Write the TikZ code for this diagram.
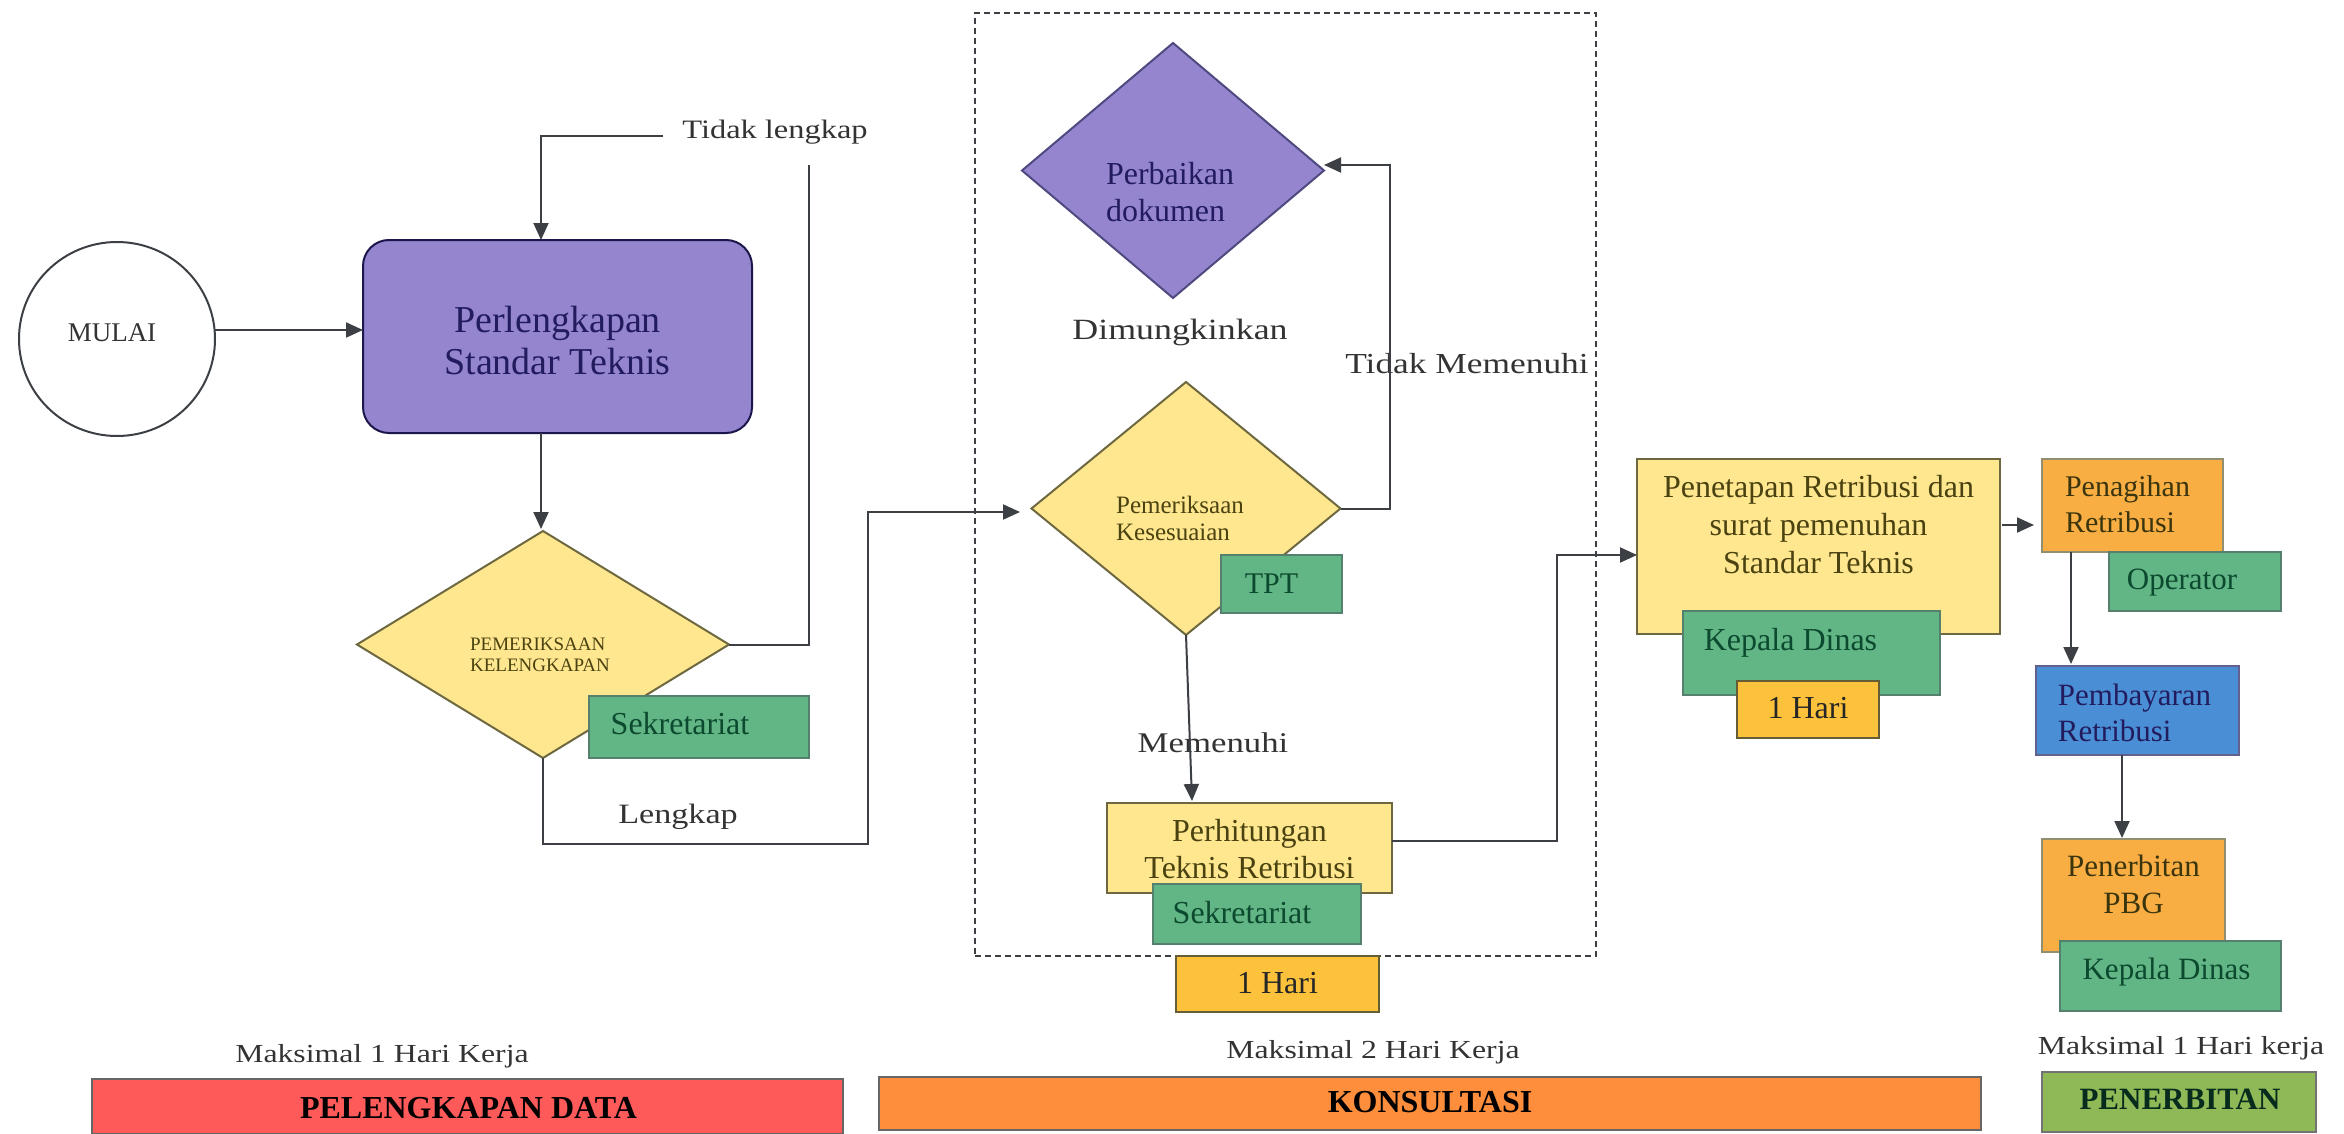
\documentclass[tikz,border=0pt]{standalone}
\usepackage{fontspec}
\setmainfont{Liberation Serif}
\newfontfamily\widefont[FakeStretch=1.22]{Liberation Serif}
\usetikzlibrary{arrows.meta,shapes.geometric}
\definecolor{cpurple}{HTML}{9585CF}
\definecolor{cyellow}{HTML}{FFE78F}
\definecolor{cgreen}{HTML}{62B584}
\definecolor{camber}{HTML}{FCC23C}
\definecolor{corange}{HTML}{F9AE44}
\definecolor{cblue}{HTML}{4A8FD6}
\definecolor{cred}{HTML}{FF5A5A}
\definecolor{cbar}{HTML}{FF8E3C}
\definecolor{cleaf}{HTML}{8FB856}
\definecolor{tnavy}{HTML}{221C5E}
\definecolor{tolive}{HTML}{4A4210}
\definecolor{tgreen}{HTML}{0C4A30}
\definecolor{tgrey}{HTML}{333333}
\definecolor{lgrey}{HTML}{3C4044}
% text at an offset (dx right, dy down) from the centre of its node
\newcommand{\offgen}[6]{\fontsize{#3}{#4}\selectfont\raisebox{\dimexpr-#2pt-0.25em\relax}[0pt][0pt]{\makebox[0pt]{\kern #1pt\kern #1pt\begin{tabular}{@{}#6@{}}#5\end{tabular}}}}
\newcommand{\off}[5]{\offgen{#1}{#2}{#3}{#4}{#5}{c}}
\newcommand{\offl}[5]{\offgen{#1}{#2}{#3}{#4}{#5}{l}}
\newcommand{\bx}[7]{\node[#6,minimum width={#4pt-#2pt},minimum height={#5pt-#3pt}] (#1) at ({(#2+#4)/2},{(#3+#5)/2}) {#7};}
\tikzset{
  x=1pt,y=-1pt,
  every node/.style={inner sep=0pt,outer sep=0pt},
  purplebox/.style={draw=tnavy!80!black,line width=2pt,fill=cpurple,text=tnavy},
  yellowbox/.style={draw=tolive!80,line width=2pt,fill=cyellow,text=tolive},
  greenbox/.style={draw=tgreen!70,line width=2pt,fill=cgreen,text=tgreen},
  amberbox/.style={draw=tolive!85,line width=2pt,fill=camber,text=black!85},
  orangebox/.style={draw=tolive!60,line width=2pt,fill=corange,text=tolive!80!black},
  bluebox/.style={draw=tnavy!70,line width=2pt,fill=cblue,text=tnavy},
  redbar/.style={draw=black!60,line width=2pt,fill=cred,text=black},
  orangebar/.style={draw=black!60,line width=2pt,fill=cbar,text=black},
  leafbar/.style={draw=black!55,line width=2pt,fill=cleaf,text=tgreen!60!black},
  ydia/.style={diamond,draw=tolive!80,line width=2pt,fill=cyellow,text=tolive},
  pdia/.style={diamond,draw=tnavy!80,line width=2pt,fill=cpurple,text=tnavy},
  conn/.style={draw=lgrey,line width=2pt,-{Triangle[length=17pt,width=15pt]}},
  plainline/.style={draw=lgrey,line width=2pt},
  freelabel/.style={text=tgrey},
  dashbox/.style={draw=lgrey,line width=2pt,dash pattern=on 6pt off 4pt},
}
\begin{document}
\begin{tikzpicture}
\useasboundingbox (0,0) rectangle (2344,1134);
\fill[white] (0,0) rectangle (2344,1134);

% dashed frame
\bx{frame}{975}{13}{1596}{956}{dashbox}{}

% start and standard
\node[ellipse,draw=lgrey,line width=2pt,fill=white,minimum width=196pt,minimum height=194pt] (mulai) at (117,339) {\off{-5}{-4}{27}{30}{\color{tgrey}MULAI}};
\node[rounded corners=26pt,purplebox,minimum width=389pt,minimum height=193pt] (std) at (557.5,336.5) {\off{0}{5}{38}{42}{Perlengkapan\\Standar Teknis}};

% first check
\node[ydia,minimum width=372pt,minimum height=227pt] (cek) at (543,644.5) {\offl{-3}{12}{19}{21}{PEMERIKSAAN\\KELENGKAPAN}};
\bx{sek1}{589}{696}{809}{758}{greenbox}{\off{-19}{-1}{32}{34}{Sekretariat}}

% repair and conformity
\node[pdia,minimum width=302pt,minimum height=255pt] (perb) at (1173,170.5) {\offl{-3}{23}{32}{37}{Perbaikan\\dokumen}};
\node[ydia,minimum width=309pt,minimum height=253pt] (sesuai) at (1186,508.5) {\offl{-6}{13}{25}{27}{Pemeriksaan\\Kesesuaian}};
\bx{tpt}{1221}{555}{1342}{613}{greenbox}{\off{-10}{1}{30}{34}{TPT}}
\bx{hitung}{1107}{803}{1392}{893}{yellowbox}{\off{0}{3}{32}{37}{Perhitungan\\Teknis Retribusi}}
\bx{sek2}{1153}{884}{1361}{944}{greenbox}{\off{-15}{1}{32}{34}{Sekretariat}}
\bx{hari1}{1176}{956}{1379}{1012}{amberbox}{\off{0}{1}{32}{34}{1 Hari}}

% decision
\bx{tetap}{1637}{459}{2000}{634}{yellowbox}{\off{0}{-20}{32}{38}{Penetapan Retribusi dan\\surat pemenuhan\\Standar Teknis}}
\bx{kadis1}{1683}{611}{1940}{695}{greenbox}{\off{-21}{-11}{32}{34}{Kepala Dinas}}
\bx{hari2}{1737}{681}{1879}{738}{amberbox}{\off{0}{0}{32}{34}{1 Hari}}

% right column
\bx{tagih}{2042}{459}{2223}{552}{orangebox}{\offl{-5}{1}{30}{36}{Penagihan\\Retribusi}}
\bx{oper}{2109}{552}{2281}{611}{greenbox}{\off{-13}{0}{31}{34}{Operator}}
\bx{bayar}{2036}{666}{2239}{755}{bluebox}{\offl{-3}{4}{31}{36}{Pembayaran\\Retribusi}}
\bx{pbg}{2042}{839}{2225}{952}{orangebox}{\off{0}{-9}{31}{37}{Penerbitan\\PBG}}
\bx{kadis2}{2060}{941}{2281}{1011}{greenbox}{\off{-4}{-5}{31}{34}{Kepala Dinas}}

% phase bars
\bx{bar1}{92}{1079}{843}{1134}{redbar}{\off{1}{3}{32}{34}{\textbf{PELENGKAPAN DATA}}}
\bx{bar2}{879}{1077}{1981}{1130}{orangebar}{\off{0}{0}{32}{34}{\textbf{KONSULTASI}}}
\bx{bar3}{2042}{1072}{2316}{1132}{leafbar}{\off{1}{-1}{31}{34}{\textbf{PENERBITAN}}}

% free labels
\node[freelabel,font=\widefont\fontsize{26.6}{32}\selectfont] (ltidak) at (775,132) {Tidak lengkap};
\node[freelabel,font=\widefont\fontsize{28}{32}\selectfont] (llengkap) at (678,817) {Lengkap};
\node[freelabel,font=\widefont\fontsize{29.4}{32}\selectfont] (ldim) at (1180,332) {Dimungkinkan};
\node[freelabel,font=\widefont\fontsize{29}{32}\selectfont] (ltm) at (1467,364) {Tidak Memenuhi};
\node[freelabel,font=\widefont\fontsize{28.5}{32}\selectfont] (lmem) at (1213,743) {Memenuhi};
\node[freelabel,font=\widefont\fontsize{26}{30}\selectfont] (lmak1) at (382,1056) {Maksimal 1 Hari Kerja};
\node[freelabel,font=\widefont\fontsize{26}{30}\selectfont] (lmak2) at (1373,1052) {Maksimal 2 Hari Kerja};
\node[freelabel,font=\widefont\fontsize{26}{30}\selectfont] (lmak3) at (2181,1048) {Maksimal 1 Hari kerja};

% connector waypoints
\coordinate (a1) at (361,330);
\coordinate (b1) at (541,136);
\coordinate (b0) at (663,136);
\coordinate (c1) at (809,644.5);
\coordinate (c2) at (809,165);
\coordinate (d1) at (541,529);
\coordinate (e1) at (543,844);
\coordinate (e2) at (868,844);
\coordinate (e3) at (868,512);
\coordinate (e4) at (1020,512);
\coordinate (f1) at (1390,508.5);
\coordinate (f2) at (1390,165);
\coordinate (g1) at (1192,801);
\coordinate (h1) at (1557,841);
\coordinate (h2) at (1557,555);
\coordinate (i1) at (2034,525);
\coordinate (i0) at (2002,525);
\coordinate (j1) at (2071,664);
\coordinate (k1) at (2122,838);

% connectors
\draw[conn] (mulai.east |- a1) -- (std.west |- a1);
\draw[conn] (b0) -- (b1) -- (b1 |- std.north);
\draw[conn] (b1 |- std.south) -- (d1);
\draw[plainline] (cek.east) -- (c1) -- (c2);
\draw[conn] (cek.south) -- (e1) -- (e2) -- (e3) -- (e4);
\draw[conn] (sesuai.east) -- (f1) -- (f2) -- (perb.east |- f2);
\draw[conn] (sesuai.south) -- (g1);
\draw[conn] (hitung.east |- h1) -- (h1) -- (h2) -- (tetap.west |- h2);
\draw[conn] (i0) -- (i1);
\draw[conn] (j1 |- tagih.south) -- (j1);
\draw[conn] (k1 |- bayar.south) -- (k1);
\end{tikzpicture}
\end{document}
